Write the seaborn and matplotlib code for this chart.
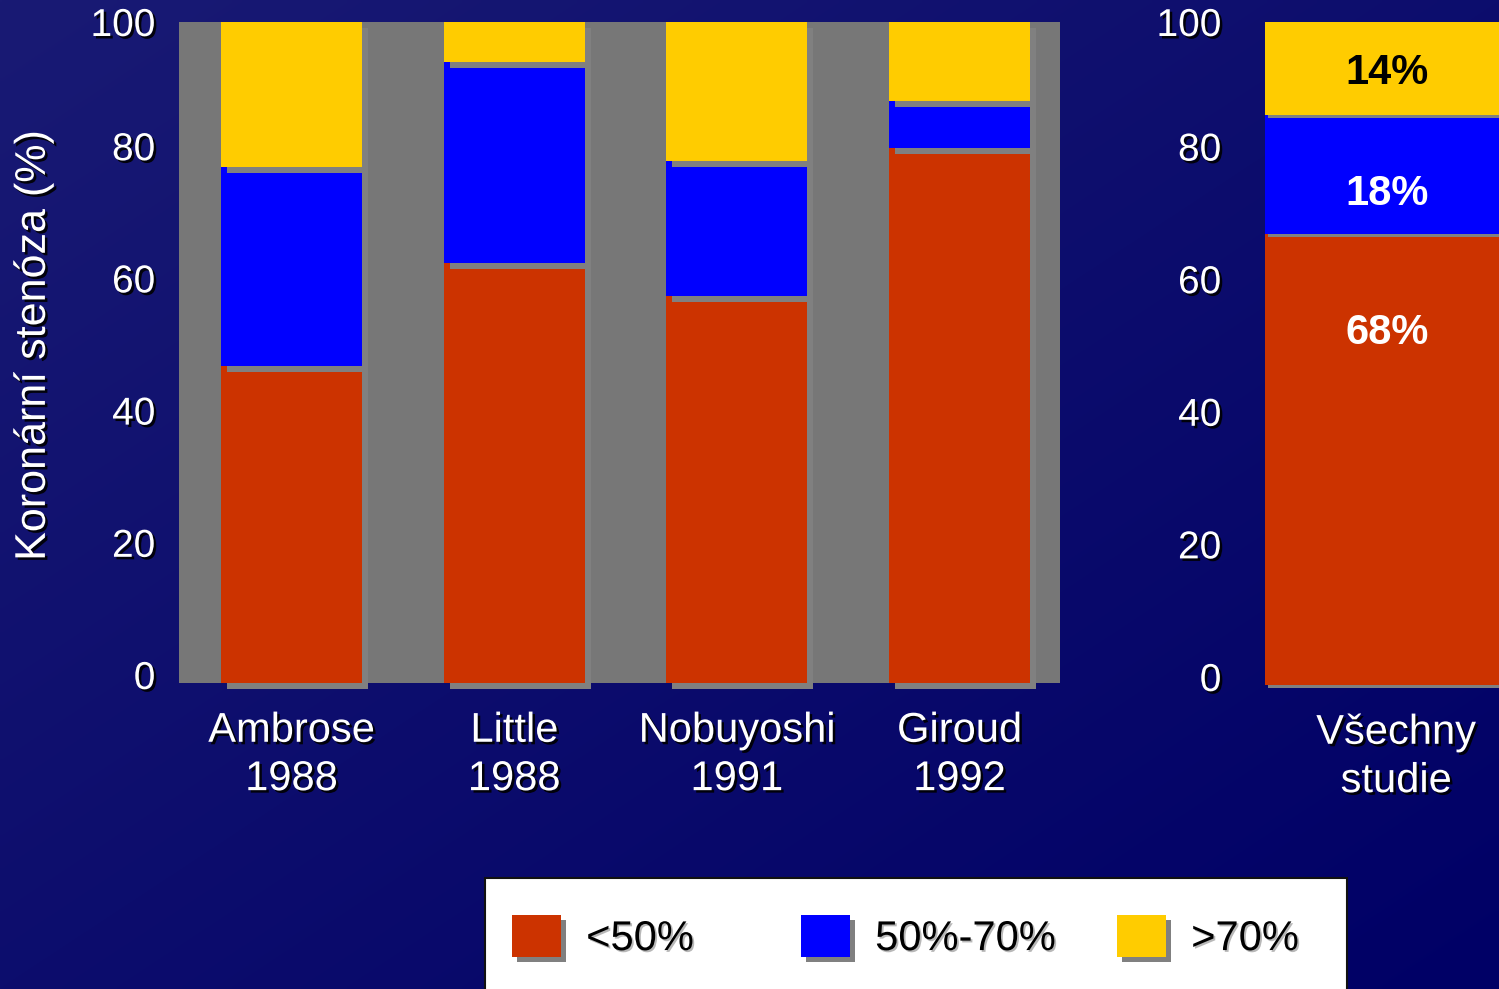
import numpy as np
import matplotlib
matplotlib.use("Agg")
import matplotlib.pyplot as plt
import matplotlib.patheffects as pe
from matplotlib.patches import Patch, Rectangle
from matplotlib.transforms import ScaledTranslation
import seaborn as sns

# Individual studies: share of infarct-related lesions by prior stenosis degree (%)
studies = ["Ambrose\n1988", "Little\n1988", "Nobuyoshi\n1991", "Giroud\n1992"]
stenosis_lt50 = [48, 63.5, 58.5, 81]
stenosis_50_70 = [30, 30.5, 20.5, 7]
stenosis_gt70 = [22, 6, 21, 12]

# Pooled result
pooled = ["Všechny\nstudie"]
pooled_lt50 = [68]
pooled_50_70 = [18]
pooled_gt70 = [14]

class_labels = ["<50%", "50%-70%", ">70%"]
y_ticks = [0, 20, 40, 60, 80, 100]
y_label = "Koronární stenóza (%)"

RED, BLUE, YELLOW = "#cc3300", "#0000ff", "#ffcc00"
colors = [RED, BLUE, YELLOW]
SHADOW_GREY = "#808080"

W, H, DPI = 1499, 989, 100


def fx(px):
    return px / W


def fy(py):
    return 1 - py / H


def bar_shadow(px):
    d = px * 72 / DPI
    return [pe.SimplePatchShadow(offset=(d, -d), shadow_rgbFace=SHADOW_GREY, alpha=1.0),
            pe.Normal()]


def text_shadow(px, col="black", alpha=0.9):
    d = px * 72 / DPI
    return [pe.SimplePatchShadow(offset=(d, -d), shadow_rgbFace=col, alpha=alpha),
            pe.Normal()]


sns.set_theme(style="white")
plt.rcParams["font.family"] = ["Liberation Sans", "DejaVu Sans"]

fig = plt.figure(figsize=(W / DPI, H / DPI), dpi=DPI)

# diagonal navy gradient backdrop
bg = fig.add_axes([0, 0, 1, 1], zorder=-10)
yy, xx = np.mgrid[0:1:200j, 0:1:300j]
t = ((xx + yy) / 2)[..., None]
c0 = np.array([25, 26, 116]) / 255
c1 = np.array([0, 0, 102]) / 255
bg.imshow(c0 * (1 - t) + c1 * t, extent=[0, 1, 0, 1], aspect="auto",
          origin="upper", interpolation="bilinear")
bg.set_axis_off()


def stacked(ax, cats, layers, width, shadow_px):
    bottom = np.zeros(len(cats))
    for vals, col in zip(layers, colors):
        sns.barplot(x=cats, y=vals, order=cats, color=col, saturation=1,
                    width=width, errorbar=None, bottom=bottom.copy(),
                    linewidth=0, path_effects=bar_shadow(shadow_px),
                    clip_on=False, ax=ax)
        bottom += np.asarray(vals, dtype=float)


lift = ScaledTranslation(0, 8 / DPI, fig.dpi_scale_trans)


def style_axis(ax):
    for s in ax.spines.values():
        s.set_visible(False)
    ax.set_ylim(0, 100)
    ax.set_yticks(y_ticks)
    ax.tick_params(axis="y", length=0, pad=17, labelsize=28, labelcolor="white")
    ax.tick_params(axis="x", length=0, pad=20, labelsize=30, labelcolor="white")
    ax.set_xlabel("")
    for lbl in ax.get_xticklabels():
        lbl.set_path_effects(text_shadow(2.5))
        lbl.set_linespacing(1.27)
    for tick, val in zip(ax.yaxis.get_major_ticks(), y_ticks):
        lbl = tick.label1
        lbl.set_path_effects(text_shadow(2.5))
        if val < 100:
            lbl.set_transform(lbl.get_transform() + lift)


# left panel: individual studies on grey plot area
ax = fig.add_axes([fx(179), fy(683), (1060 - 179) / W, (683 - 22) / H])
ax.set_facecolor("#777777")
stacked(ax, studies, [stenosis_lt50, stenosis_50_70, stenosis_gt70], 0.633, 6)
ax.set_xlim(-0.505, 3.451)
style_axis(ax)
ax.set_ylabel(y_label, fontsize=31, color="white")
ax.yaxis.set_label_coords(-0.142, 0.51)
ax.yaxis.label.set_path_effects(text_shadow(2.5))

# right panel: pooled result, no plot-area fill
axr = fig.add_axes([fx(1245), fy(685), (1547 - 1245) / W, (685 - 22) / H])
axr.patch.set_alpha(0)
stacked(axr, pooled, [pooled_lt50, pooled_50_70, pooled_gt70], 0.868, 3)
axr.set_xlim(-0.5, 0.5)
style_axis(axr)
axr.set_ylabel("")

# percentage labels inside the pooled bar
label_frac = [0.78, 0.34, 0.45]
label_col = ["white", "white", "black"]
base = 0.0
for vals, frac, col in zip([pooled_lt50, pooled_50_70, pooled_gt70], label_frac, label_col):
    v = vals[0]
    axr.text(-0.03, base + v * frac, f"{v:g}%", ha="center", va="center",
             fontsize=30, fontweight="bold", color=col)
    base += v

# legend panel
fig.add_artist(Rectangle((fx(485), -0.05), (1347 - 485) / W, (989 - 878) / H + 0.05,
                         transform=fig.transFigure, facecolor="white",
                         edgecolor="#111111", linewidth=1.5, zorder=2))
legend_x = [512, 801, 1117]
for col, lab, x in zip(colors, class_labels, legend_x):
    handle = Patch(facecolor=col, edgecolor="none", linewidth=0, path_effects=bar_shadow(5))
    leg = fig.legend(handles=[handle], labels=[lab], loc="center left",
                     bbox_to_anchor=(fx(x), fy(937)), frameon=False, borderpad=0,
                     borderaxespad=0, handlelength=1.18, handleheight=1.18,
                     handletextpad=0.6, fontsize=30)
    leg.set_zorder(5)
    for txt in leg.get_texts():
        txt.set_color("black")
        txt.set_path_effects(text_shadow(1.8, "#b8b8b8", 1.0))

fig.savefig("out.png", dpi=DPI)
